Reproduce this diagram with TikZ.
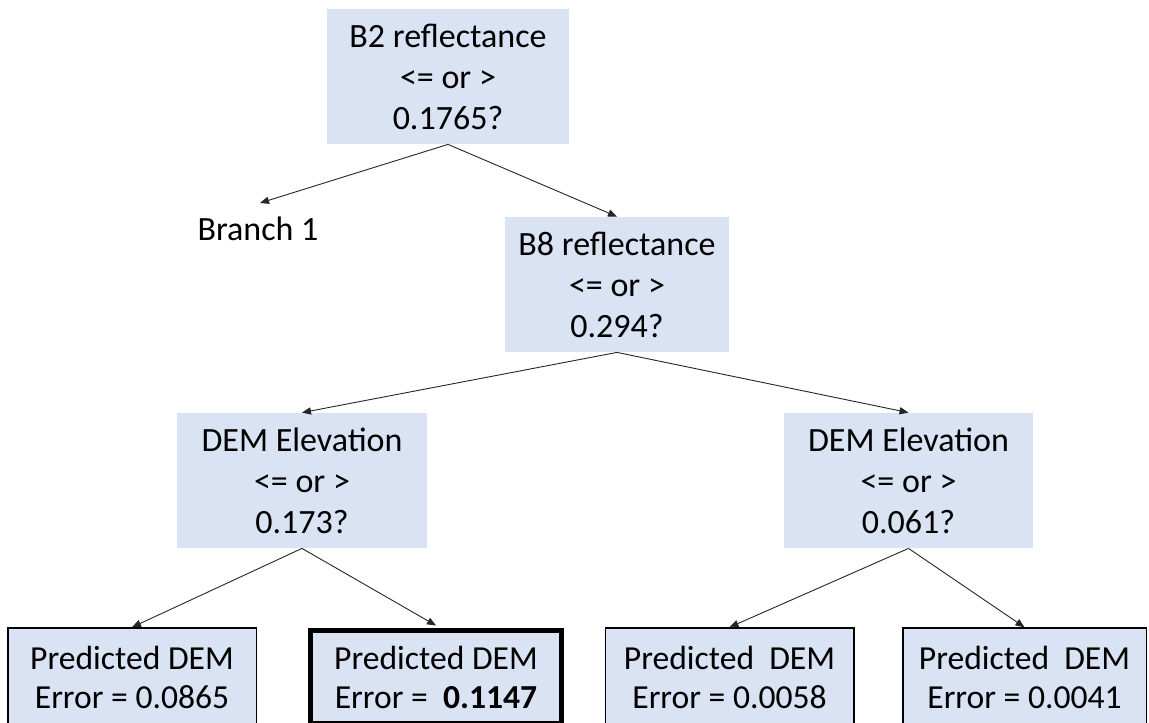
\documentclass[tikz,border=0pt]{standalone}
\usepackage{fontspec}
\setmainfont{Carlito}
\usetikzlibrary{arrows.meta}
\definecolor{boxfill}{HTML}{DAE3F3}
\begin{document}
\begin{tikzpicture}[x=0.5pt,y=-0.5pt,
  decision/.style={fill=boxfill, draw=none, align=center, inner sep=0pt,
    font=\fontsize{17}{20.5}\selectfont, minimum height=67.5pt},
  leaf/.style={fill=boxfill, draw=black, line width=0.75pt, align=center, inner sep=0pt,
    font=\fontsize{16.8}{19.5}\selectfont, minimum width=124.25pt, minimum height=49pt},
  bestleaf/.style={leaf, line width=2.5pt, minimum width=125.5pt, minimum height=46.5pt},
  conn/.style={draw=black!85, line width=0.45pt, -{Triangle[length=4.5pt,width=3.6pt]}},
  ]
\clip (0,0) rectangle (1149,722);
\fill[white] (0,0) rectangle (1149,722);

% decision nodes
\node[decision, minimum width=121pt] (top) at (448,76.5) {B2 reflectance\\<= or >\\0.1765?};
\node[decision, minimum width=112pt] (b8) at (617,284.5) {B8 reflectance\\<= or >\\0.294?};
\node[decision, minimum width=125pt] (demL) at (302,480.5) {DEM Elevation\\<= or >\\0.173?};
\node[decision, minimum width=124.5pt] (demR) at (908.5,480.5) {DEM Elevation\\<= or >\\0.061?};

% branch 1
\node[font=\fontsize{17}{20.5}\selectfont, inner sep=0pt] (branch1) at (258,229) {Branch 1};
\coordinate (b1tip) at (260,203);

% leaves
\node[leaf] (leaf1) at (132,677) {Predicted DEM\\Error = 0.0865};
\node[bestleaf] (leaf2) at (436,677) {Predicted DEM\\Error =\ \ \textbf{0.1147}};
\node[leaf] (leaf3) at (729.5,677) {Predicted\ \ DEM\\Error = 0.0058};
\node[leaf, minimum width=121.75pt] (leaf4) at (1024.5,677) {Predicted\ \ DEM\\Error = 0.0041};

% connectors
\draw[conn] (top.south) -- (b1tip);
\draw[conn] (top.south) -- (b8.north);
\draw[conn] (b8.south) -- (demL.north);
\draw[conn] (b8.south) -- (demR.north);
\draw[conn] (demL.south) -- (leaf1.north);
\draw[conn] (demL.south) -- ([yshift=1.25pt]leaf2.north);
\draw[conn] (demR.south) -- (leaf3.north);
\draw[conn] (demR.south) -- (leaf4.north);
\end{tikzpicture}
\end{document}
